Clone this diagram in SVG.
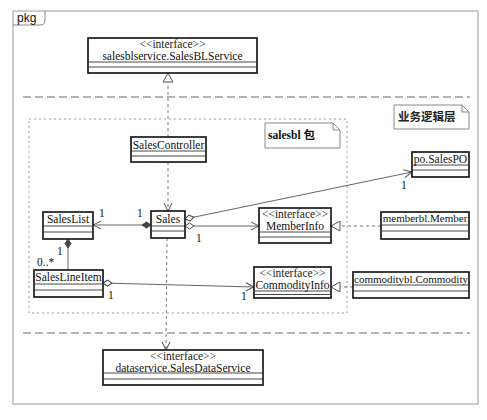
<svg xmlns="http://www.w3.org/2000/svg" width="487" height="420" viewBox="0 0 487 420">
<style>
.cls{fill:#fff;stroke:#1a1a1a;stroke-width:1.7}
.sep{stroke:#333;stroke-width:0.9}
.t{font-family:"Liberation Serif","Times New Roman",serif;font-size:11.5px;fill:#111;text-anchor:middle}
.st{font-family:"Liberation Serif","Times New Roman",serif;font-size:11.5px;fill:#222;text-anchor:middle}
.lbl{font-family:"Liberation Serif","Times New Roman",serif;font-size:11.5px;fill:#111}
.note{fill:#fff;stroke:#888;stroke-width:1}
.solid{fill:none;stroke:#666;stroke-width:1}
.dash{fill:none;stroke:#777;stroke-width:1;stroke-dasharray:3 3}
.layer{fill:none;stroke:#9a9a9a;stroke-width:1.5;stroke-dasharray:8 4}
</style>
<defs>
<marker id="open" viewBox="-10 -6 12 12" refX="0" refY="0" markerWidth="12" markerHeight="12" markerUnits="userSpaceOnUse" orient="auto">
<path d="M-8,-4 L0,0 L-8,4" fill="none" stroke="#555" stroke-width="1"/>
</marker>
<marker id="tri" viewBox="-11 -7 13 14" refX="0" refY="0" markerWidth="13" markerHeight="14" markerUnits="userSpaceOnUse" orient="auto">
<path d="M-9,-5 L0,0 L-9,5 Z" fill="#fff" stroke="#555" stroke-width="1"/>
</marker>
<marker id="fdia" viewBox="-1 -5 12 10" refX="0" refY="0" markerWidth="12" markerHeight="10" markerUnits="userSpaceOnUse" orient="auto">
<path d="M0,0 L4.5,-3 L9,0 L4.5,3 Z" fill="#444" stroke="#444" stroke-width="1"/>
</marker>
<marker id="hdia" viewBox="-1 -5 12 10" refX="0" refY="0" markerWidth="12" markerHeight="10" markerUnits="userSpaceOnUse" orient="auto">
<path d="M0,0 L4.5,-3 L9,0 L4.5,3 Z" fill="#fff" stroke="#444" stroke-width="1"/>
</marker>
</defs>
<rect width="487" height="420" fill="#fff"/>
<g id="frame">
<rect x="13" y="11" width="465" height="393" fill="none" stroke="#aaa" stroke-width="1.2"/>
<path d="M13,25 L40,25 Q45,25 45,20 L45,11" fill="none" stroke="#888" stroke-width="1"/>
<text x="17" y="22" style="font-family:'Liberation Sans',Arial,sans-serif;font-size:12px;fill:#111">pkg</text>
</g>
<g id="layers">
<line class="layer" x1="23" y1="97" x2="470" y2="97"/>
<line class="layer" x1="23" y1="333" x2="470" y2="333"/>
</g>
<g id="salesbl-package">
<rect x="29" y="119" width="318" height="194" fill="none" stroke="#999" stroke-width="1" stroke-dasharray="2 3"/>
</g>
<g id="connectors">
<line class="dash" x1="168" y1="137" x2="168" y2="73" marker-end="url(#tri)"/>
<line class="dash" x1="168" y1="162" x2="168" y2="211" marker-end="url(#open)"/>
<line class="dash" x1="167" y1="238" x2="166" y2="350" marker-end="url(#open)"/>
<line class="solid" x1="151" y1="225" x2="93" y2="225" marker-start="url(#fdia)" marker-end="url(#open)"/>
<line class="solid" x1="185" y1="219" x2="412" y2="172" marker-start="url(#hdia)" marker-end="url(#open)"/>
<line class="solid" x1="185" y1="226" x2="259" y2="226" marker-start="url(#hdia)" marker-end="url(#open)"/>
<line class="solid" x1="68" y1="239" x2="68" y2="270" marker-start="url(#fdia)"/>
<line class="solid" x1="103" y1="283" x2="254" y2="287" marker-start="url(#hdia)" marker-end="url(#open)"/>
<line class="dash" x1="381" y1="226" x2="331" y2="226" marker-end="url(#tri)"/>
<line class="dash" x1="353" y1="287" x2="331" y2="287" marker-end="url(#tri)"/>
<text class="lbl" x="99" y="217">1</text>
<text class="lbl" x="137" y="217">1</text>
<text class="lbl" x="196" y="242">1</text>
<text class="lbl" x="401" y="189">1</text>
<text class="lbl" x="57" y="255">1</text>
<text class="lbl" x="37" y="266">0..*</text>
<text class="lbl" x="108" y="299">1</text>
<text class="lbl" x="241" y="300">1</text>
</g>
<g id="SalesBLService">
<rect class="cls" x="88" y="38" width="169" height="35"/>
<line class="sep" x1="88" y1="62" x2="257" y2="62"/>
<line class="sep" x1="88" y1="67" x2="257" y2="67"/>
<text class="st" x="172.5" y="48">&lt;&lt;interface&gt;&gt;</text>
<text class="t" x="172.5" y="59.5">salesblservice.SalesBLService</text>
</g>
<g id="SalesController">
<rect class="cls" x="131" y="137" width="75" height="25"/>
<line class="sep" x1="131" y1="151" x2="206" y2="151"/>
<line class="sep" x1="131" y1="156" x2="206" y2="156"/>
<text class="t" x="168.5" y="148.5">SalesController</text>
</g>
<g id="SalesList">
<rect class="cls" x="43" y="212" width="50" height="27"/>
<line class="sep" x1="43" y1="226" x2="93" y2="226"/>
<line class="sep" x1="43" y1="232" x2="93" y2="232"/>
<text class="t" x="68" y="223">SalesList</text>
</g>
<g id="Sales">
<rect class="cls" x="151" y="211" width="34" height="27"/>
<line class="sep" x1="151" y1="226" x2="185" y2="226"/>
<line class="sep" x1="151" y1="231" x2="185" y2="231"/>
<text class="t" x="168" y="222.5">Sales</text>
</g>
<g id="SalesLineItem">
<rect class="cls" x="34" y="270" width="69" height="27"/>
<line class="sep" x1="34" y1="284" x2="103" y2="284"/>
<line class="sep" x1="34" y1="290" x2="103" y2="290"/>
<text class="t" x="68.5" y="281">SalesLineItem</text>
</g>
<g id="MemberInfo">
<rect class="cls" x="259" y="208" width="72" height="35"/>
<line class="sep" x1="259" y1="232" x2="331" y2="232"/>
<line class="sep" x1="259" y1="237" x2="331" y2="237"/>
<text class="st" x="295" y="218">&lt;&lt;interface&gt;&gt;</text>
<text class="t" x="295" y="229.5">MemberInfo</text>
</g>
<g id="CommodityInfo">
<rect class="cls" x="254" y="267" width="77" height="31"/>
<line class="sep" x1="254" y1="291" x2="331" y2="291"/>
<line class="sep" x1="254" y1="294.5" x2="331" y2="294.5"/>
<text class="st" x="292.5" y="277">&lt;&lt;interface&gt;&gt;</text>
<text class="t" x="292.5" y="289">CommodityInfo</text>
</g>
<g id="MemberblMember">
<rect class="cls" x="381" y="212" width="88" height="27"/>
<line class="sep" x1="381" y1="225" x2="469" y2="225"/>
<line class="sep" x1="381" y1="231" x2="469" y2="231"/>
<text class="t" x="425" y="222" style="font-size:11px">memberbl.Member</text>
</g>
<g id="CommodityblCommodity">
<rect class="cls" x="353" y="272" width="116" height="26"/>
<line class="sep" x1="353" y1="285" x2="469" y2="285"/>
<line class="sep" x1="353" y1="291" x2="469" y2="291"/>
<text class="t" x="411" y="283" style="font-size:11px">commoditybl.Commodity</text>
</g>
<g id="SalesPO">
<rect class="cls" x="412" y="152" width="57" height="25"/>
<line class="sep" x1="412" y1="165" x2="469" y2="165"/>
<line class="sep" x1="412" y1="170" x2="469" y2="170"/>
<text class="t" x="440.5" y="162.5">po.SalesPO</text>
</g>
<g id="SalesDataService">
<rect class="cls" x="103" y="350" width="160" height="35"/>
<line class="sep" x1="103" y1="373" x2="263" y2="373"/>
<line class="sep" x1="103" y1="379" x2="263" y2="379"/>
<text class="st" x="183" y="360">&lt;&lt;interface&gt;&gt;</text>
<text class="t" x="183" y="371.5">dataservice.SalesDataService</text>
</g>
<g id="note-salesbl">
<path class="note" d="M265,123 L333,123 L340,130 L340,148 L265,148 Z"/>
<path d="M333,123 L333,130 L340,130" fill="none" stroke="#888" stroke-width="1"/>
<text x="268" y="139" style="font-family:'Liberation Serif','Noto Sans CJK SC',serif;font-size:11.5px;font-weight:bold;fill:#111">salesbl 包</text>
</g>
<g id="note-layer">
<path class="note" d="M394,105 L462,105 L469,112 L469,129 L394,129 Z"/>
<path d="M462,105 L462,112 L469,112" fill="none" stroke="#888" stroke-width="1"/>
<text x="398" y="121" style="font-family:'Noto Sans CJK SC',sans-serif;font-size:11.5px;font-weight:bold;fill:#222">业务逻辑层</text>
</g>
</svg>
